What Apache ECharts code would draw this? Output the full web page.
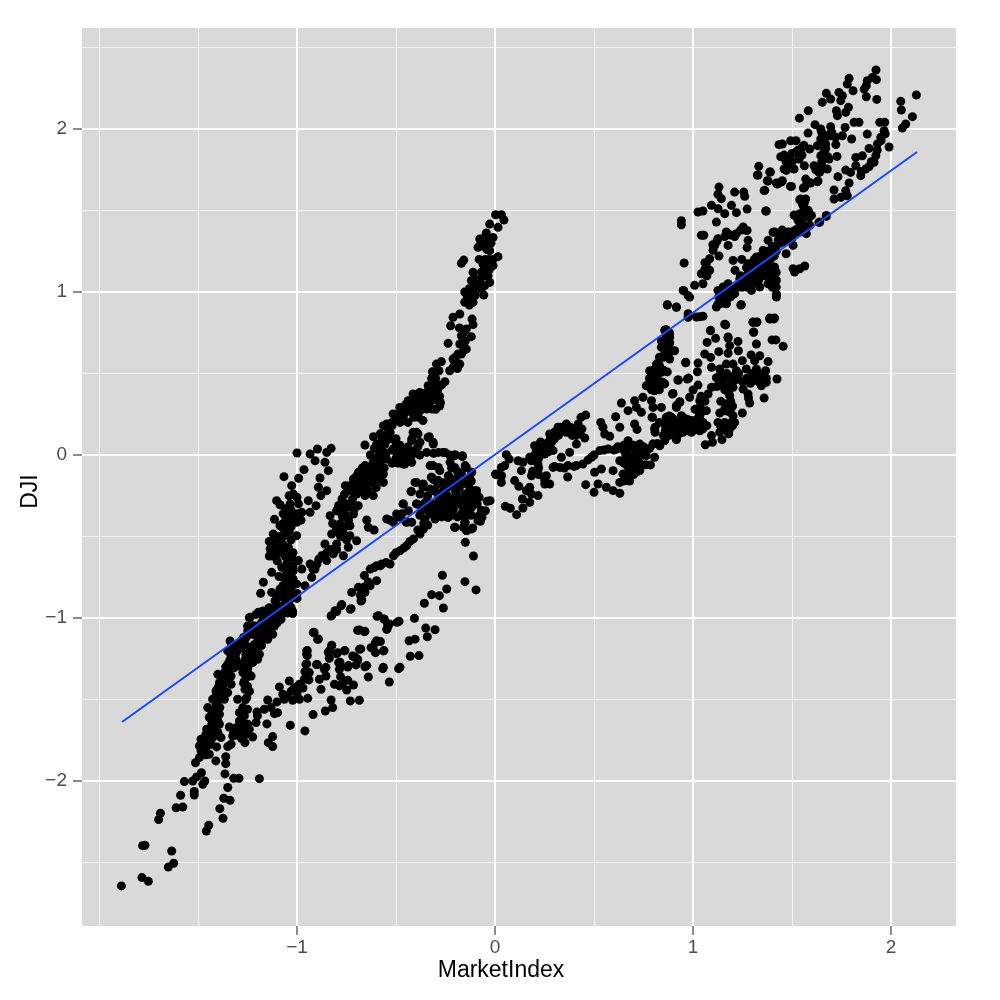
<!DOCTYPE html>
<html>
<head>
<meta charset="utf-8">
<title>DJI vs MarketIndex</title>
<script src="https://cdn.jsdelivr.net/npm/echarts@6/dist/echarts.min.js"></script>
<style>
html, body { margin: 0; padding: 0; background: #fff; }
#chart { width: 1000px; height: 1000px; }
</style>
</head>
<body>
<div id="chart"></div>
<script>
// values, [MarketIndex, DJI]
var tailPoints = [[-1.887,-2.644],[-1.783,-2.593],[-1.751,-2.616],[-1.65,-2.528],[-1.623,-2.505],[-1.633,-2.43],[-1.78,-2.397],[-1.768,-2.395],[-1.699,-2.237],[-1.69,-2.198],[-1.611,-2.165],[-1.577,-2.16],[-1.588,-2.088],[-1.519,-2.086],[-1.519,-2.065],[-1.569,-2.004],[-1.527,-2],[-1.507,-1.975],[-1.476,-2.02],[-1.466,-2],[-1.483,-1.95],[-1.458,-2.307],[-1.446,-2.272],[-1.374,-2.229],[-1.39,-2.17],[-1.37,-2.106],[-1.338,-2.119],[-1.35,-2.04],[-1.32,-1.984],[-1.293,-1.984],[-1.19,-1.986],[-1.364,-1.957],[-1.36,-1.894],[-1.36,-1.851],[-1.41,-1.877]];
var leftStrand = [[-1.513,-1.888],[-1.493,-1.857],[-1.485,-1.816],[-1.493,-1.785],[-1.468,-1.765],[-1.443,-1.836],[-1.46,-1.795],[-1.485,-1.744],[-1.46,-1.714],[-1.426,-1.734],[-1.456,-1.683],[-1.418,-1.663],[-1.4,-1.703],[-1.384,-1.734],[-1.406,-1.791],[-1.434,-1.775],[-1.409,-1.611],[-1.392,-1.652],[-1.443,-1.611],[-1.451,-1.55],[-1.418,-1.571],[-1.392,-1.591],[-1.426,-1.499],[-1.4,-1.509],[-1.367,-1.499],[-1.409,-1.448],[-1.375,-1.438],[-1.35,-1.458],[-1.392,-1.397],[-1.4,-1.346],[-1.362,-1.387],[-1.333,-1.407],[-1.367,-1.335],[-1.333,-1.356],[-1.35,-1.284],[-1.316,-1.305],[-1.333,-1.233],[-1.308,-1.254],[-1.35,-1.202],[-1.325,-1.182],[-1.338,-1.141],[-1.3,-1.162],[-1.266,-1.151],[-1.249,-1.08],[-1.258,-1.121]];
var rightStrand = [[-1.35,-1.789],[-1.333,-1.775],[-1.325,-1.724],[-1.308,-1.673],[-1.342,-1.669],[-1.283,-1.703],[-1.263,-1.765],[-1.258,-1.714],[-1.224,-1.73],[-1.241,-1.683],[-1.291,-1.632],[-1.266,-1.601],[-1.291,-1.581],[-1.249,-1.652],[-1.207,-1.642],[-1.274,-1.55],[-1.3,-1.499],[-1.254,-1.489],[-1.263,-1.438],[-1.266,-1.387],[-1.232,-1.356],[-1.274,-1.335],[-1.249,-1.305],[-1.283,-1.284],[-1.224,-1.274],[-1.199,-1.254],[-1.258,-1.223],[-1.224,-1.202],[-1.19,-1.223],[-1.215,-1.162],[-1.19,-1.141],[-1.207,-1.11],[-1.173,-1.1],[-1.148,-1.131],[-1.123,-1.1],[-1.173,-1.059],[-1.207,-0.978],[-1.241,-0.998],[-1.173,-0.957],[-1.14,-0.998],[-1.114,-1.049],[-1.081,-1.008],[-1.14,-0.937],[-1.03,-0.937],[-1.022,-0.973]];
var lowerFan = [[-1.202,-1.577],[-1.165,-1.56],[-1.148,-1.503],[-1.114,-1.587],[-1.098,-1.581],[-1.131,-1.55],[-1.101,-1.515],[-1.089,-1.423],[-1.072,-1.468],[-1.064,-1.499],[-1.022,-1.505],[-0.988,-1.499],[-0.946,-1.493],[-1.039,-1.387],[-1.013,-1.427],[-0.988,-1.407],[-0.963,-1.376],[-0.938,-1.335],[-0.955,-1.284],[-0.902,-1.286],[-0.862,-1.315],[-0.887,-1.376],[-0.854,-1.356],[-0.879,-1.438],[-0.828,-1.503],[-0.82,-1.55],[-0.857,-1.571],[-0.919,-1.593],[-0.96,-1.693],[-1.034,-1.658],[-1.152,-1.65],[-1.123,-1.728],[-1.145,-1.765],[-1.123,-1.789],[-0.731,-1.509],[-0.685,-1.505],[-0.749,-1.442],[-0.715,-1.411],[-0.744,-1.382],[-0.811,-1.407],[-0.786,-1.417],[-0.786,-1.315],[-0.79,-1.274],[-0.837,-1.247],[-0.837,-1.202],[-0.825,-1.168],[-0.795,-1.213],[-0.761,-1.202],[-0.744,-1.301],[-0.702,-1.288],[-0.657,-1.299],[-0.64,-1.362],[-0.719,-1.233],[-0.685,-1.192],[-0.694,-1.254],[-0.626,-1.182],[-0.604,-1.151],[-0.579,-1.145],[-0.564,-1.202],[-0.604,-1.213],[-0.567,-1.311],[-0.534,-1.393],[-0.487,-1.311],[-0.951,-1.202],[-0.951,-1.223],[-0.918,-1.09],[-0.896,-1.131],[-0.694,-1.076],[-0.66,-1.084],[-0.596,-0.99],[-0.559,-1.008],[-0.542,-1.039],[-0.547,-1.07],[-0.495,-1.027],[-0.828,-0.988],[-0.8,-0.961],[-0.778,-0.926],[-0.731,-0.947],[-0.677,-0.896]];
var upperLobe = [[-1,0.012],[-0.965,-0.09],[-1.066,-0.133],[-0.992,-0.143],[-0.934,0.006],[-0.897,0.037],[-0.909,-0.035],[-0.85,0.016],[-0.828,0.041],[-0.859,-0.045],[-0.842,-0.096],[-0.884,-0.141],[-0.892,-0.198],[-0.85,-0.219],[-0.88,-0.249],[-0.904,-0.311],[-0.943,-0.28],[-0.934,-0.352],[-1.027,-0.188],[-1.019,-0.239],[-1.103,-0.28],[-1.086,-0.305],[-1.035,-0.3],[-0.993,-0.3],[-1.114,-0.395],[-1.061,-0.372],[-1.019,-0.362],[-0.976,-0.352],[-1.086,-0.434],[-1.044,-0.413],[-1.002,-0.413],[-1.12,-0.485],[-1.052,-0.474],[-1.002,-0.495],[-1.086,-0.536],[-1.136,-0.577],[-1.044,-0.566],[-1.128,-0.618],[-1.094,-0.597],[-1.027,-0.628],[-0.993,-0.648],[-1.077,-0.689],[-1.128,-0.72],[-1.091,-0.746],[-1.019,-0.71],[-0.976,-0.7],[-1.17,-0.781],[-1.184,-0.849],[-1.128,-0.843],[-1.086,-0.822],[-1.035,-0.781],[-1.002,-0.791],[-0.96,-0.802],[-1.052,-0.863],[-1.111,-0.894],[-1.019,-0.873],[-1.061,-0.914],[-1.022,-0.959],[-1.145,-0.945],[-1.195,-0.965],[-1.237,-0.996],[-1.12,-0.996],[-1.086,-0.996],[-1.178,-1.027],[-1.128,-1.057],[-1.22,-1.047]];
var middleStrand = [[-0.934,-0.669],[-0.909,-0.7],[-0.926,-0.75],[-0.875,-0.618],[-0.85,-0.648],[-0.859,-0.546],[-0.817,-0.607],[-0.766,-0.618],[-0.8,-0.546],[-0.825,-0.485],[-0.783,-0.485],[-0.741,-0.566],[-0.699,-0.526],[-0.733,-0.495],[-0.783,-0.423],[-0.733,-0.434],[-0.833,-0.372],[-0.8,-0.342],[-0.758,-0.362],[-0.715,-0.362],[-0.773,-0.27],[-0.73,-0.3],[-0.691,-0.311],[-0.756,-0.188],[-0.73,-0.219],[-0.699,-0.239],[-0.657,-0.249],[-0.615,-0.249],[-0.715,-0.147],[-0.682,-0.178],[-0.646,-0.188],[-0.69,-0.106],[-0.648,-0.127],[-0.606,-0.157],[-0.564,-0.168],[-0.657,-0.065],[-0.615,-0.086],[-0.564,-0.117],[-0.615,-0.035],[-0.581,-0.065],[-0.589,0.027],[-0.547,-0.025],[-0.657,0.061],[-0.598,0.067],[-0.556,0.067],[-0.513,0.037],[-0.463,0.027],[-0.463,-0.055],[-0.421,-0.045],[-0.564,0.18],[-0.53,0.139],[-0.614,0.112],[-0.547,0.19],[-0.498,0.247],[-0.468,0.292],[-0.426,0.313],[-0.421,0.262],[-0.387,0.231],[-0.396,0.139],[-0.332,0.112],[-0.379,0.078],[-0.312,0.067],[-0.421,0.088],[-0.345,0.282],[-0.278,0.313],[-0.404,0.027],[-0.345,0.016],[-0.286,0.016],[-0.253,0.016],[-0.202,0.002],[-0.165,-0.004],[-0.227,-0.045],[-0.151,-0.065],[-0.118,-0.106]];
var centralRing = [[-0.328,-0.065],[-0.286,-0.076],[-0.236,-0.127],[-0.194,-0.147],[-0.16,-0.157],[-0.126,-0.209],[-0.093,-0.219],[-0.32,-0.137],[-0.362,-0.178],[-0.404,-0.168],[-0.424,-0.223],[-0.379,-0.239],[-0.328,-0.209],[-0.286,-0.157],[-0.396,-0.3],[-0.345,-0.28],[-0.286,-0.249],[-0.253,-0.3],[-0.202,-0.27],[-0.151,-0.239],[-0.109,-0.28],[-0.261,-0.342],[-0.21,-0.331],[-0.168,-0.311],[-0.236,-0.382],[-0.151,-0.372],[-0.118,-0.321],[-0.151,-0.413],[-0.202,-0.444],[-0.16,-0.444],[-0.113,-0.448],[-0.143,-0.464],[-0.066,-0.382],[-0.049,-0.342],[-0.074,-0.407],[-0.025,-0.28],[0.008,-0.121],[0.033,-0.127],[-0.15,-0.536],[-0.109,-0.62],[-0.328,-0.321],[-0.303,-0.393],[-0.354,-0.393],[-0.362,-0.454],[-0.379,-0.485],[-0.412,-0.515],[-0.446,-0.556],[-0.48,-0.587],[-0.513,-0.618],[-0.53,-0.669],[-0.572,-0.669],[-0.598,-0.679],[-0.631,-0.7],[-0.66,-0.74],[-0.598,-0.771],[-0.631,-0.802],[-0.657,-0.843],[-0.69,-0.812],[-0.724,-0.843],[-0.673,-0.89],[-0.774,-0.918],[-0.808,-0.955],[-0.825,-0.986],[-0.727,-0.943],[-0.547,-0.393],[-0.497,-0.362],[-0.463,-0.3],[-0.438,-0.342],[-0.513,-0.413],[-0.446,-0.413],[-0.421,-0.413],[-0.48,-0.382],[-0.64,-0.444],[-0.611,-0.46],[-0.648,-0.399]];
var sparseLower = [[-0.266,-0.738],[-0.152,-0.777],[-0.096,-0.828],[-0.244,-0.822],[-0.32,-0.857],[-0.281,-0.863],[-0.357,-0.91],[-0.261,-0.939],[-0.407,-1.002],[-0.485,-1.02],[-0.35,-1.062],[-0.303,-1.072],[-0.342,-1.115],[-0.404,-1.13],[-0.434,-1.14],[-0.428,-1.235],[-0.384,-1.231],[-0.589,-0.986],[-0.561,-1.006],[-0.534,-1.037],[-0.544,-1.063],[-0.685,-1.074],[-0.657,-1.082],[-0.914,-1.088],[-0.892,-1.129],[-0.948,-1.2],[-0.948,-1.231],[-0.598,-1.14],[-0.615,-1.19],[-0.561,-1.2],[-0.678,-1.19],[-0.758,-1.2],[-0.825,-1.17],[-0.842,-1.21],[-0.8,-1.22],[-0.707,-1.241],[-0.74,-1.292],[-0.648,-1.292],[-0.564,-1.303],[-0.48,-1.303],[-0.897,-1.286],[-0.951,-1.282],[-0.854,-1.303],[-0.783,-1.272],[-0.694,-1.262]];
var upperArm = [[0.003,1.474],[0.032,1.474],[0.045,1.442],[-0.027,1.417],[0.015,1.397],[-0.044,1.362],[-0.077,1.325],[-0.01,1.335],[-0.086,1.274],[-0.035,1.284],[-0.027,1.254],[0.015,1.217],[-0.158,1.196],[-0.17,1.176],[-0.061,1.172],[-0.01,1.162],[-0.027,1.141],[-0.111,1.121],[-0.069,1.121],[-0.035,1.1],[-0.12,1.07],[-0.077,1.07],[-0.027,1.059],[-0.052,1.04],[-0.153,1],[-0.111,1.018],[-0.057,0.982],[-0.153,0.937],[-0.111,0.937],[-0.128,0.967],[-0.178,0.865],[-0.212,0.845],[-0.116,0.834],[-0.111,0.8],[-0.224,0.793],[-0.145,0.773],[-0.17,0.732],[-0.12,0.726],[-0.237,0.685],[-0.178,0.681],[-0.145,0.65],[-0.187,0.62],[-0.212,0.589],[-0.178,0.558],[-0.229,0.517],[-0.271,0.573],[-0.296,0.558],[-0.316,0.511],[-0.283,0.517],[-0.3,0.47],[-0.253,0.45],[-0.288,0.405],[-0.338,0.425],[-0.322,0.384],[-0.38,0.384],[-0.414,0.374],[-0.276,0.323],[-0.36,0.333],[-0.318,0.282],[-0.439,0.333],[-0.394,0.282],[-0.431,0.292],[-0.481,0.292],[-0.515,0.252],[-0.465,0.231],[-0.41,0.231],[-0.364,0.211],[-0.414,0.139],[-0.389,0.129],[-0.338,0.108],[-0.313,0.078],[-0.263,0.016],[-0.204,-0.004],[-0.165,-0.01],[-0.456,-0.055],[-0.313,-0.065],[-0.279,-0.096],[-0.204,-0.076],[-0.145,-0.076],[-0.229,-0.137],[-0.128,-0.137],[-0.322,-0.137],[-0.397,-0.168],[-0.364,-0.198],[-0.423,-0.225],[-0.103,-0.219],[-0.313,-0.219],[-0.195,-0.239],[-0.12,-0.29],[-0.039,-0.284],[-0.397,-0.3],[-0.465,-0.3],[-0.313,-0.3],[-0.266,-0.321],[-0.069,-0.341],[-0.081,-0.372],[-0.086,-0.403],[-0.162,-0.372],[-0.239,-0.382],[-0.153,-0.413],[-0.204,-0.444],[-0.12,-0.454],[-0.145,-0.464]];
var rightOfZero = [[0.002,-0.117],[0.032,-0.168],[0.032,-0.076],[0.057,0.002],[0.071,-0.025],[0.049,-0.065],[0.116,-0.035],[0.141,-0.045],[0.133,-0.096],[0.099,-0.157],[0.12,-0.192],[0.052,-0.315],[0.077,-0.327],[0.109,-0.366],[0.141,-0.325],[0.138,-0.27],[0.175,-0.29],[0.158,-0.219],[0.184,-0.239],[0.217,-0.249],[0.175,-0.198],[0.184,-0.127],[0.209,-0.096],[0.259,-0.127],[0.251,-0.178],[0.276,-0.178],[0.184,-0.035],[0.217,-0.055],[0.175,-0.014],[0.209,0.027],[0.251,0.006],[0.293,0.027],[0.2,0.057],[0.242,0.067],[0.285,0.078],[0.276,0.129],[0.318,0.17],[0.36,0.19],[0.36,0.139],[0.402,0.149],[0.439,0.16],[0.453,0.104],[0.411,0.067],[0.434,0.231],[0.458,0.245],[0.377,0.016],[0.335,-0.014],[0.293,-0.076],[0.327,-0.076],[0.369,-0.065],[0.411,-0.065],[0.444,-0.055],[0.487,-0.014],[0.529,0.027],[0.571,0.037],[0.367,-0.135],[0.458,-0.182],[0.5,-0.229],[0.52,-0.178],[0.503,-0.106],[0.537,-0.086],[0.596,-0.096],[0.562,-0.198],[0.596,-0.219],[0.63,-0.235],[0.63,-0.168],[0.646,-0.117],[0.689,-0.096],[0.731,-0.096],[0.785,-0.061],[0.806,-0.014],[0.764,-0.004],[0.714,0.027],[0.663,0.016],[0.613,0.037],[0.63,-0.035],[0.672,0.088],[0.731,0.067],[0.798,0.067],[0.857,0.088],[0.545,0.17],[0.534,0.2],[0.554,0.129],[0.579,0.115],[0.63,0.17],[0.609,0.235],[0.705,0.19],[0.717,0.157],[0.808,0.17],[0.808,0.139],[0.793,0.231],[0.638,0.319],[0.672,0.272],[0.714,0.292],[0.739,0.262],[0.705,0.333],[0.747,0.354],[0.798,0.292],[0.84,0.292],[0.916,0.303],[0.933,0.327],[0.899,0.378],[0.926,0.46],[0.971,0.466],[0.963,0.566],[0.764,0.425],[0.806,0.395],[0.848,0.44],[0.781,0.517],[0.84,0.507],[0.815,0.558],[0.857,0.62],[0.907,0.64],[0.882,0.589],[0.84,0.661],[0.882,0.691],[0.865,0.732],[0.861,0.769],[0.87,0.92],[0.916,0.906],[0.953,1.008],[0.975,0.978],[0.955,1.178],[0.941,1.438],[0.941,1.413],[0.975,0.845],[0.865,0.231],[0.899,0.211],[0.949,0.231],[0.916,0.149],[0.882,0.17],[0.966,0.17],[0.916,0.094]];
var lowerCloud = [[1.034,0.849],[1.126,0.926],[1.168,0.93],[1.241,0.92],[1.165,0.798],[1.303,0.814],[1.32,0.814],[1.387,0.834],[1.407,0.834],[1.306,0.753],[1.088,0.763],[1.114,0.716],[1.071,0.691],[1.177,0.718],[1.227,0.697],[1.185,0.671],[1.32,0.681],[1.399,0.706],[1.418,0.706],[1.455,0.667],[1.177,0.624],[1.229,0.64],[1.13,0.634],[1.059,0.62],[1.089,0.599],[1.293,0.614],[1.337,0.609],[0.963,0.569],[1.025,0.564],[1.022,0.511],[1.249,0.579],[1.379,0.573],[1.311,0.579],[1.093,0.538],[1.168,0.558],[1.202,0.558],[1.135,0.528],[1.219,0.517],[1.269,0.528],[1.32,0.528],[1.367,0.517],[1.345,0.487],[1.118,0.474],[1.168,0.476],[1.227,0.466],[1.278,0.472],[1.32,0.456],[1.37,0.446],[1.424,0.466],[1.345,0.425],[0.923,0.46],[0.978,0.472],[0.857,0.436],[1.025,0.429],[1.093,0.415],[1.152,0.425],[1.202,0.415],[1.253,0.405],[1,0.399],[0.896,0.374],[1.076,0.374],[1.185,0.364],[1.278,0.374],[1.359,0.35],[0.983,0.354],[1.034,0.333],[1.286,0.319],[0.933,0.323],[0.916,0.292],[1.168,0.313],[1.034,0.292],[1.067,0.272],[1.16,0.282],[1.249,0.258],[1.034,0.241],[1.135,0.258],[0.992,0.211],[0.941,0.241],[0.891,0.231],[1.202,0.241],[0.857,0.19],[0.916,0.18],[0.966,0.18],[1.017,0.19],[1.126,0.2],[1.194,0.2],[0.806,0.16],[0.882,0.16],[0.949,0.139],[1.034,0.149],[1.143,0.17],[1.185,0.16],[0.857,0.108],[0.916,0.098],[0.992,0.139],[1.135,0.139],[1.093,0.119],[1.146,0.094],[1.062,0.063],[1.098,0.078],[0.832,0.057],[0.798,0.067],[0.795,0.231],[0.806,0.497],[0.882,0.722],[0.865,0.767],[0.798,0.476],[0.832,0.507],[0.848,0.446],[0.806,0.395],[0.79,0.333]];
var lineCluster = [[0.857,0.765],[0.882,0.744],[0.87,0.922],[0.916,0.908],[0.95,1.01],[0.983,0.969],[1.008,1.041],[0.975,0.867],[1.017,0.847],[1.05,0.851],[1.05,1.051],[1.042,1.112],[1.084,1.133],[1.067,1.174],[1.084,1.204],[1.025,1.491],[1.05,1.497],[1.093,1.532],[1.126,1.511],[1.16,1.481],[1.118,1.429],[1.131,1.644],[1.126,1.599],[1.143,1.573],[1.21,1.613],[1.256,1.613],[1.261,1.587],[1.194,1.532],[1.219,1.487],[1.273,1.509],[1.37,1.497],[1.362,1.624],[1.042,1.348],[1.054,1.348],[1.126,1.327],[1.109,1.286],[1.101,1.256],[1.131,1.221],[1.168,1.368],[1.177,1.286],[1.219,1.358],[1.253,1.399],[1.273,1.378],[1.278,1.317],[1.273,1.272],[1.202,1.194],[1.246,1.2],[1.212,1.133],[1.126,1.01],[1.152,1.031],[1.177,1.051],[1.135,0.928],[1.168,0.928],[1.118,0.908],[1.21,0.99],[1.244,0.922],[1.236,1.031],[1.278,1.051],[1.337,1.031],[1.295,1.01],[1.236,1.082],[1.286,1.112],[1.337,1.092],[1.379,1.051],[1.421,1.072],[1.421,0.969],[1.421,0.986],[1.396,1.092],[1.278,1.174],[1.32,1.215],[1.354,1.174],[1.379,1.133],[1.412,1.153],[1.337,1.133],[1.354,1.256],[1.387,1.235],[1.379,1.317],[1.412,1.368],[1.421,1.286],[1.47,1.235],[1.48,1.368],[1.513,1.378],[1.463,1.317],[1.505,1.286],[1.505,1.143],[1.513,1.123],[1.539,1.143],[1.564,1.16],[1.539,1.368],[1.572,1.358],[1.513,1.47],[1.539,1.481],[1.547,1.429],[1.581,1.501],[1.598,1.47],[1.64,1.429],[1.673,1.47],[1.539,1.566],[1.564,1.552],[1.497,1.648],[1.379,1.681],[1.421,1.669],[1.446,1.675],[1.328,1.718],[1.391,1.736],[1.564,1.644],[1.581,1.675],[1.631,1.681],[1.471,1.746],[1.64,1.736],[1.16,0.802],[1.088,0.765],[1.303,0.816],[1.323,0.816],[1.306,0.755],[1.387,0.84],[1.412,0.84],[1.177,0.724]];
var topCloud = [[1.924,2.362],[1.788,2.311],[1.779,2.276],[1.906,2.317],[1.926,2.303],[1.88,2.297],[1.875,2.266],[1.864,2.245],[1.808,2.235],[1.673,2.219],[1.737,2.225],[1.754,2.204],[1.875,2.198],[1.928,2.182],[1.695,2.184],[1.653,2.164],[1.746,2.174],[1.785,2.133],[1.771,2.102],[1.724,2.112],[1.729,2.082],[1.582,2.112],[1.537,2.067],[1.616,2.027],[1.645,2],[1.581,1.975],[1.695,2.014],[1.768,2.01],[1.813,2.041],[1.838,2.041],[1.943,2.041],[1.968,2.041],[2.049,2.17],[2.052,2.117],[2.128,2.209],[2.108,2.076],[2.074,2.031],[2.057,2.006],[1.88,1.969],[1.965,1.99],[1.948,1.949],[1.931,1.908],[1.99,1.89],[1.889,1.881],[1.801,1.939],[1.754,1.959],[1.721,1.904],[1.695,1.959],[1.645,1.939],[1.67,1.908],[1.628,1.898],[1.662,1.867],[1.645,1.836],[1.687,1.816],[1.727,1.832],[1.678,1.755],[1.636,1.734],[1.611,1.775],[1.562,1.775],[1.589,1.877],[1.552,1.887],[1.493,1.928],[1.52,1.928],[1.434,1.904],[1.451,1.908],[1.518,1.857],[1.443,1.83],[1.485,1.826],[1.535,1.816],[1.46,1.755],[1.51,1.755],[1.493,1.785],[1.332,1.771],[1.325,1.718],[1.387,1.736],[1.375,1.683],[1.426,1.663],[1.451,1.683],[1.492,1.648],[1.359,1.622],[1.569,1.693],[1.594,1.669],[1.628,1.677],[1.557,1.638],[1.732,1.708],[1.771,1.748],[1.822,1.775],[1.847,1.714],[1.872,1.755],[1.914,1.796],[1.923,1.836],[1.855,1.836],[1.822,1.826],[1.796,1.734],[1.712,1.626],[1.712,1.571],[1.788,1.669],[1.771,1.622],[1.779,1.591],[1.746,1.581],[1.544,1.571],[1.569,1.571],[1.552,1.54],[1.367,1.497],[1.51,1.472],[1.582,1.495],[1.552,1.458],[1.586,1.458],[1.673,1.464],[1.636,1.427],[1.544,1.417],[1.577,1.397],[1.404,1.366],[1.485,1.366],[1.518,1.366]];
// extra points where the dots overlap into solid areas
var denseLeft = [[-1.47,-1.8],[-1.44,-1.75],[-1.44,-1.7],[-1.41,-1.65],[-1.43,-1.58],[-1.41,-1.54],[-1.39,-1.47],[-1.38,-1.42],[-1.38,-1.36],[-1.36,-1.3],[-1.34,-1.26],[-1.32,-1.2],[-1.3,-1.2],[-1.28,-1.14],[-1.24,-1.1],[-1.2,-1.05],[-1.15,-1.02],[-1.1,-0.96],[-1.06,-0.94],[-1.16,-1.07],[-1.22,-1.1],[-1.28,-1.66],[-1.28,-1.62],[-1.25,-1.56],[-1.26,-1.5],[-1.24,-1.45],[-1.25,-1.36],[-1.26,-1.3],[-1.22,-1.23],[-1.2,-1.19],[-1.18,-1.17],[-1.15,-1.09],[-1.1,-1.03],[-1.07,-0.95],[-1.04,-0.92],[-1.09,-0.93],[-1.05,-0.84],[-1.07,-0.8],[-1.03,-0.82],[-1,-0.85],[-1.05,-0.73],[-1.02,-0.76],[-1.07,-0.75],[-1.05,-0.66],[-1.02,-0.6],[-1.1,-0.65],[-1.08,-0.6],[-1.1,-0.52],[-1.07,-0.5],[-1.03,-0.52],[-1.07,-0.42],[-1.03,-0.44],[-1.03,-0.34],[-1.06,-0.33],[-1,-0.36],[-1.04,-0.25],[-1,-0.26],[-0.98,-0.4],[-1.14,-0.53],[-1.12,-0.58],[-1.14,-0.62],[-1.2,-1.6],[-1.03,-1.45],[-1,-1.46],[-0.97,-1.43],[-0.96,-1.33],[-0.94,-1.38],[-1.05,-1.48],[-0.78,-1.36],[-0.77,-1.4],[-0.78,-1.3],[-1.47,-1.74],[-1.45,-1.73],[-1.44,-1.68],[-1.48,-1.77],[-1.47,-1.83],[-1.46,-1.84],[-1.42,-1.7],[-1.43,-1.65],[-1.4,-1.63],[-1.41,-1.58],[-1.39,-1.55],[-1.41,-1.48],[-1.38,-1.47],[-1.4,-1.43],[-1.37,-1.41],[-1.37,-1.36],[-1.35,-1.36],[-1.36,-1.33],[-1.34,-1.31],[-1.32,-1.28],[-1.34,-1.21],[-1.31,-1.22],[-1.28,-1.18],[-1.27,-1.12],[-1.23,-1.07],[-1.25,-1.05],[-1.28,-1.3],[-1.25,-1.33],[-1.26,-1.25],[-1.23,-1.26],[-1.21,-1.2],[-1.24,-1.18],[-1.18,-1.15],[-1.2,-1.1],[-1.16,-1.12],[-1.15,-1.05],[-1.12,-1.02],[-1.05,-0.97],[-1.27,-1.4],[-1.25,-1.42],[-1.27,-1.7],[-1.28,-1.74],[-1.3,-1.72],[-1.32,-1.7],[-1.07,-0.36],[-1.03,-0.41],[-1.04,-0.47],[-1.07,-0.45],[-1.03,-0.38],[-1.09,-0.5],[-1.11,-0.55],[-1.09,-0.57],[-1.07,-0.55],[-1.12,-0.62],[-1.1,-0.6],[-1.05,-0.58],[-1.06,-0.62],[-1.04,-0.69],[-1.02,-0.68],[-1.06,-0.7],[-1.05,-0.78],[-1.03,-0.84],[-1.06,-0.88],[-1.03,-0.88],[-1.08,-0.87],[-1.1,-0.86],[-1,-0.88],[-1.05,-0.9],[-1.1,-0.92],[-1.12,-0.95],[-1.14,-0.98],[-1.17,-1],[-1.16,-0.97]];
var denseCentre = [[-0.89,-0.64],[-0.83,-0.58],[-0.8,-0.58],[-0.78,-0.5],[-0.75,-0.52],[-0.76,-0.44],[-0.74,-0.4],[-0.78,-0.35],[-0.75,-0.3],[-0.72,-0.27],[-0.76,-0.24],[-0.72,-0.21],[-0.68,-0.2],[-0.69,-0.15],[-0.66,-0.15],[-0.63,-0.13],[-0.66,-0.1],[-0.63,-0.07],[-0.6,-0.1],[-0.6,-0.05],[-0.58,-0.02],[-0.63,0],[-0.57,0.03],[-0.61,0.04],[-0.55,0.12],[-0.58,0.13],[-0.52,0.18],[-0.5,0.1],[-0.5,0.02],[-0.48,0.2],[-0.44,0.2],[-0.45,0.27],[-0.4,0.28],[-0.37,0.3],[-0.37,0.36],[-0.34,0.37],[-0.4,0.34],[-0.33,0.32],[-0.3,0.38],[-0.42,0.1],[-0.39,0.05],[-0.44,0.05],[-0.45,-0.02],[-0.49,-0.05],[-0.52,-0.05],[-0.42,0],[-0.38,0],[-0.31,0.01],[-0.23,0],[-0.3,-0.22],[-0.34,-0.25],[-0.3,-0.3],[-0.26,-0.22],[-0.24,-0.2],[-0.23,-0.27],[-0.2,-0.22],[-0.18,-0.2],[-0.16,-0.27],[-0.13,-0.25],[-0.17,-0.36],[-0.19,-0.38],[-0.22,-0.37],[-0.27,-0.38],[-0.33,-0.36],[-0.34,-0.43],[-0.38,-0.37],[-0.36,-0.42],[-0.39,-0.46],[-0.43,-0.53],[-0.46,-0.57],[-0.5,-0.6],[-0.55,-0.66],[-0.58,-0.68],[-0.64,-0.78],[-0.66,-0.81],[-0.68,-0.86],[-0.61,-0.69],[-0.45,-0.41],[-0.47,-0.36],[-0.53,-0.4],[-0.05,1.2],[-0.04,1.15],[-0.06,1.28],[-0.03,1.32],[-0.09,1.05],[-0.14,0.97],[-0.16,0.68],[-0.16,0.7],[-0.2,0.56],[-0.15,0.7],[-0.32,0.42],[-0.35,0.38],[-0.28,0.36],[-0.33,0.35],[-0.41,0.33],[-0.44,0.29],[-0.74,-0.19],[-0.72,-0.18],[-0.7,-0.2],[-0.68,-0.22],[-0.66,-0.22],[-0.64,-0.22],[-0.7,-0.13],[-0.67,-0.13],[-0.64,-0.09],[-0.67,-0.08],[-0.62,-0.17],[-0.6,-0.2],[-0.58,-0.15],[-0.6,-0.14],[-0.58,-0.1],[-0.56,-0.08],[-0.6,-0.02],[-0.57,-0.03],[-0.55,0.01],[-0.59,0.06],[-0.57,0.1],[-0.55,0.09],[-0.53,0.1],[-0.54,0.16],[-0.52,0.1],[-0.5,0.06],[-0.48,0.06],[-0.46,0.02],[-0.44,0.01],[-0.41,0.02],[-0.52,0.03],[-0.5,-0.02],[-0.48,-0.02],[-0.44,-0.04],[-0.77,-0.38],[-0.76,-0.33],[-0.79,-0.31],[-0.82,-0.42],[-0.8,-0.45],[-0.77,-0.47],[-0.85,-0.6],[-0.87,-0.62],[-0.9,-0.67],[-0.92,-0.7],[-0.71,-0.33],[-0.73,-0.32],[-0.39,0.32],[-0.35,0.33],[-0.3,0.34],[-0.28,0.3],[-0.3,0.28],[-0.35,0.29],[-0.38,0.27],[-0.42,0.28],[-0.45,0.31],[-0.46,0.25],[-0.48,0.24],[-0.5,0.21],[-0.52,0.2],[-0.3,0.42],[-0.27,0.43],[-0.3,0.44],[-0.32,0.47],[-0.31,-0.15],[-0.29,-0.18],[-0.26,-0.17],[-0.23,-0.15],[-0.21,-0.18],[-0.27,-0.27],[-0.24,-0.33],[-0.22,-0.29],[-0.19,-0.29],[-0.16,-0.32],[-0.13,-0.3],[-0.11,-0.3],[-0.14,-0.35],[-0.12,-0.37],[-0.09,-0.3],[-0.1,-0.26],[-0.08,-0.26],[-0.14,-0.18],[-0.12,-0.16],[-0.19,-0.1],[-0.17,-0.11],[-0.22,-0.08],[-0.36,-0.3],[-0.34,-0.33],[-0.31,-0.36],[-0.37,-0.34],[-0.34,-0.31],[-0.29,-0.34],[-0.24,-0.25],[-0.28,-0.28],[-0.08,1.2],[-0.03,1.2],[-0.05,1.1],[-0.07,1.02],[-0.1,1.08],[-0.1,0.98],[-0.13,1.02],[-0.14,0.94],[-0.13,0.92],[-0.16,0.75],[-0.18,0.78],[-0.17,0.62],[-0.16,0.64],[-0.2,0.6],[-0.19,0.53],[-0.21,0.54],[-0.02,1.3],[-0.05,1.34],[-0.07,1.31],[-0.01,1.2],[-0.04,1.26]];
var denseRight = [[0.2,-0.02],[0.23,0.03],[0.22,-0.08],[0.25,0.03],[0.25,0.05],[0.27,0.02],[0.19,-0.1],[0.3,0.1],[0.33,0.14],[0.33,0.17],[0.38,0.17],[0.42,0.16],[0.42,0.19],[0.3,-0.07],[0.35,-0.08],[0.4,-0.07],[0.47,-0.03],[0.5,0],[0.55,0.03],[0.6,0.03],[0.65,0.03],[0.7,0.04],[0.75,0.05],[0.82,0.07],[0.88,0.12],[0.9,0.17],[0.9,0.2],[0.93,0.2],[0.95,0.19],[0.99,0.2],[0.65,-0.05],[0.68,-0.03],[0.7,-0.06],[0.72,-0.02],[0.75,0],[0.66,-0.12],[0.68,-0.16],[0.72,-0.1],[0.66,0],[0.8,0.44],[0.78,0.47],[0.82,0.47],[0.8,0.52],[0.83,0.55],[0.85,0.6],[0.87,0.66],[0.86,0.7],[0.88,0.75],[0.83,0.4],[0.87,0.51],[1.17,0.5],[1.2,0.48],[1.15,0.45],[1.18,0.42],[1.14,0.5],[1.18,0.38],[1.2,0.3],[1.19,0.26],[1.16,0.2],[1.27,0.47],[1.3,0.5],[1.33,0.48],[1.35,0.5],[1.37,0.47],[1.28,0.35],[1.03,0.26],[1,0.2],[0.95,0.18],[0.93,0.17],[0.9,0.15],[1.05,0.2],[1.01,0.28],[1.02,0.17],[1.06,0.33],[1.18,0.13],[1.2,1.02],[1.25,1.07],[1.3,1.1],[1.3,1.15],[1.33,1.16],[1.31,1.2],[1.34,1.22],[1.36,1.2],[1.38,1.25],[1.39,1.15],[1.4,1.28],[1.43,1.32],[1.45,1.34],[1.47,1.36],[1.5,1.36],[1.35,1.1],[1.39,1.06],[1.36,1.1],[1.4,1.03],[1.17,0.96],[1.19,0.97],[1.22,1.04],[1.27,1.09],[1.32,1.06],[1.53,1.44],[1.55,1.46],[1.56,1.41],[1.56,1.52],[1.53,1.39],[1.59,1.41],[1.5,1.85],[1.53,1.87],[1.55,1.84],[1.56,1.9],[1.5,1.8],[1.47,1.8],[1.46,1.84],[1.66,1.93],[1.68,1.96],[1.65,1.98],[1.67,1.88],[1.65,1.8],[1.68,1.83],[1.72,1.95],[1.7,1.98],[1.62,1.75],[1.65,1.77],[1.85,1.74],[1.9,1.8],[1.93,1.87],[1.95,1.93],[1.97,1.97],[1.89,1.77],[0.2,0],[0.22,0.04],[0.24,0.02],[0.26,0.05],[0.21,-0.03],[0.22,-0.12],[0.25,-0.15],[0.27,0.08],[0.28,0.1],[0.3,0.14],[0.32,0.12],[0.35,0.15],[0.39,0.12],[0.41,0.12],[0.43,0.13],[0.23,0.08],[0.22,-0.02],[0.65,0.06],[0.68,0.05],[0.7,0.06],[0.72,0.04],[0.75,0.03],[0.78,0.04],[0.62,0.05],[0.66,-0.03],[0.69,-0.01],[0.71,-0.04],[0.73,-0.05],[0.76,-0.06],[0.68,-0.09],[0.7,-0.12],[0.67,-0.07],[0.65,-0.16],[0.78,0.44],[0.79,0.4],[0.82,0.42],[0.79,0.5],[0.82,0.5],[0.85,0.52],[0.83,0.6],[0.86,0.62],[0.88,0.63],[0.84,0.7],[0.88,0.68],[0.83,0.2],[0.86,0.15],[0.88,0.2],[0.9,0.22],[0.88,0.24],[0.91,0.16],[0.93,0.13],[0.95,0.16],[0.97,0.15],[0.89,0.18],[0.85,0.12],[1.12,0.42],[1.16,0.4],[1.19,0.47],[1.21,0.46],[1.23,0.5],[1.25,0.45],[1.29,0.44],[1.31,0.47],[1.34,0.44],[1.14,0.33],[1.17,0.27],[1.19,0.33],[1.14,0.18],[1.17,0.15],[1.2,0.18],[1.21,0.2],[1,0.15],[1.03,0.18],[1.05,0.16],[1.07,0.18],[0.98,0.17],[1.02,0.22],[1.05,0.27],[0.97,0.22],[1.04,0.36],[1.2,1],[1.23,1.05],[1.25,1.03],[1.27,1.03],[1.3,1.05],[1.31,1.09],[1.28,1.12],[1.27,1.15],[1.3,1.18],[1.32,1.14],[1.34,1.12],[1.36,1.16],[1.37,1.18],[1.34,1.18],[1.36,1.25],[1.39,1.2],[1.42,1.25],[1.41,1.22],[1.4,1.1],[1.42,1.12],[1.42,1.03],[1.44,1.3],[1.46,1.31],[1.48,1.32],[1.43,1.36],[1.45,1.38],[1.5,1.33],[1.52,1.37],[1.17,1],[1.13,0.97],[1.16,0.93],[1.15,0.98],[1.24,1.1],[1.33,1.07],[1.1,1.29],[1.12,1.31],[1.19,1.35],[1.16,1.34],[1.21,1.34],[1.24,1.38],[1.26,1.38],[1.06,1.18],[1.06,1.14],[1.07,1.1]];
var fitLine = [[-1.884,-1.638],[2.131,1.859]];

var xTicks = [-1, 0, 1, 2];
var yTicks = [-2, -1, 0, 1, 2];
var xMinor = [-2, -1.5, -0.5, 0.5, 1.5];
var yMinor = [-2.5, -1.5, -0.5, 0.5, 1.5, 2.5];
var xRange = [-2.086, 2.328];
var yRange = [-2.89, 2.62];

var allPoints = [].concat(tailPoints, leftStrand, rightStrand, lowerFan, upperLobe, middleStrand, centralRing, sparseLower, upperArm, rightOfZero, lowerCloud, lineCluster, topCloud, denseLeft, denseCentre, denseRight);

var myChart = echarts.init(document.getElementById("chart"));

function minus(v) {
    return String(v).replace("-", "\u2212");
}

function minorAxis(range, values, position) {
    return {
        type: "value",
        position: position,
        min: range[0],
        max: range[1],
        axisLine: { show: false, onZero: false },
        axisLabel: { show: false },
        axisTick: { show: false, customValues: values },
        splitLine: { show: true, lineStyle: { color: "#f2f2f2", width: 1 } }
    };
}

function majorAxis(range, values, name, position, margin) {
    return {
        type: "value",
        position: position,
        min: range[0],
        max: range[1],
        name: name,
        nameLocation: "middle",
        nameMoveOverlap: false,
        axisLine: { show: false, onZero: false },
        axisTick: { show: true, length: 9, customValues: values, lineStyle: { color: "#666666", width: 1.5 } },
        axisLabel: { customValues: values, color: "#4d4d4d", fontSize: 19, fontFamily: "Liberation Sans", margin: margin, formatter: minus },
        splitLine: { show: true, lineStyle: { color: "#ffffff", width: 2 } }
    };
}

var xMajor = majorAxis(xRange, xTicks, "MarketIndex", "bottom", 12);
xMajor.nameGap = 33;
xMajor.nameTextStyle = { color: "#000", fontSize: 23, fontFamily: "Liberation Sans", padding: [0, 36, 0, 0] };

var yMajor = majorAxis(yRange, yTicks, "DJI", "left", 15);
yMajor.nameGap = 40;
yMajor.nameTextStyle = { color: "#000", fontSize: 23, fontFamily: "Liberation Sans", padding: [0, 29, 0, 0] };

var option = {
    animation: false,
    backgroundColor: "#ffffff",
    grid: {
        left: 82,
        right: 44,
        top: 28,
        bottom: 74,
        outerBoundsMode: "none",
        show: true,
        backgroundColor: "#d9d9d9",
        borderWidth: 0
    },
    xAxis: [minorAxis(xRange, xMinor, "bottom"), xMajor],
    yAxis: [minorAxis(yRange, yMinor, "left"), yMajor],
    series: [
        {
            type: "scatter",
            xAxisIndex: 1,
            yAxisIndex: 1,
            data: allPoints,
            symbolSize: 9,
            itemStyle: { color: "#000000", opacity: 1 }
        },
        {
            type: "line",
            xAxisIndex: 1,
            yAxisIndex: 1,
            data: fitLine,
            showSymbol: false,
            z: 5,
            lineStyle: { color: "#1a47ff", width: 2 }
        }
    ]
};

myChart.setOption(option);
window.addEventListener("resize", function () {
    myChart.resize();
});
</script>
</body>
</html>
